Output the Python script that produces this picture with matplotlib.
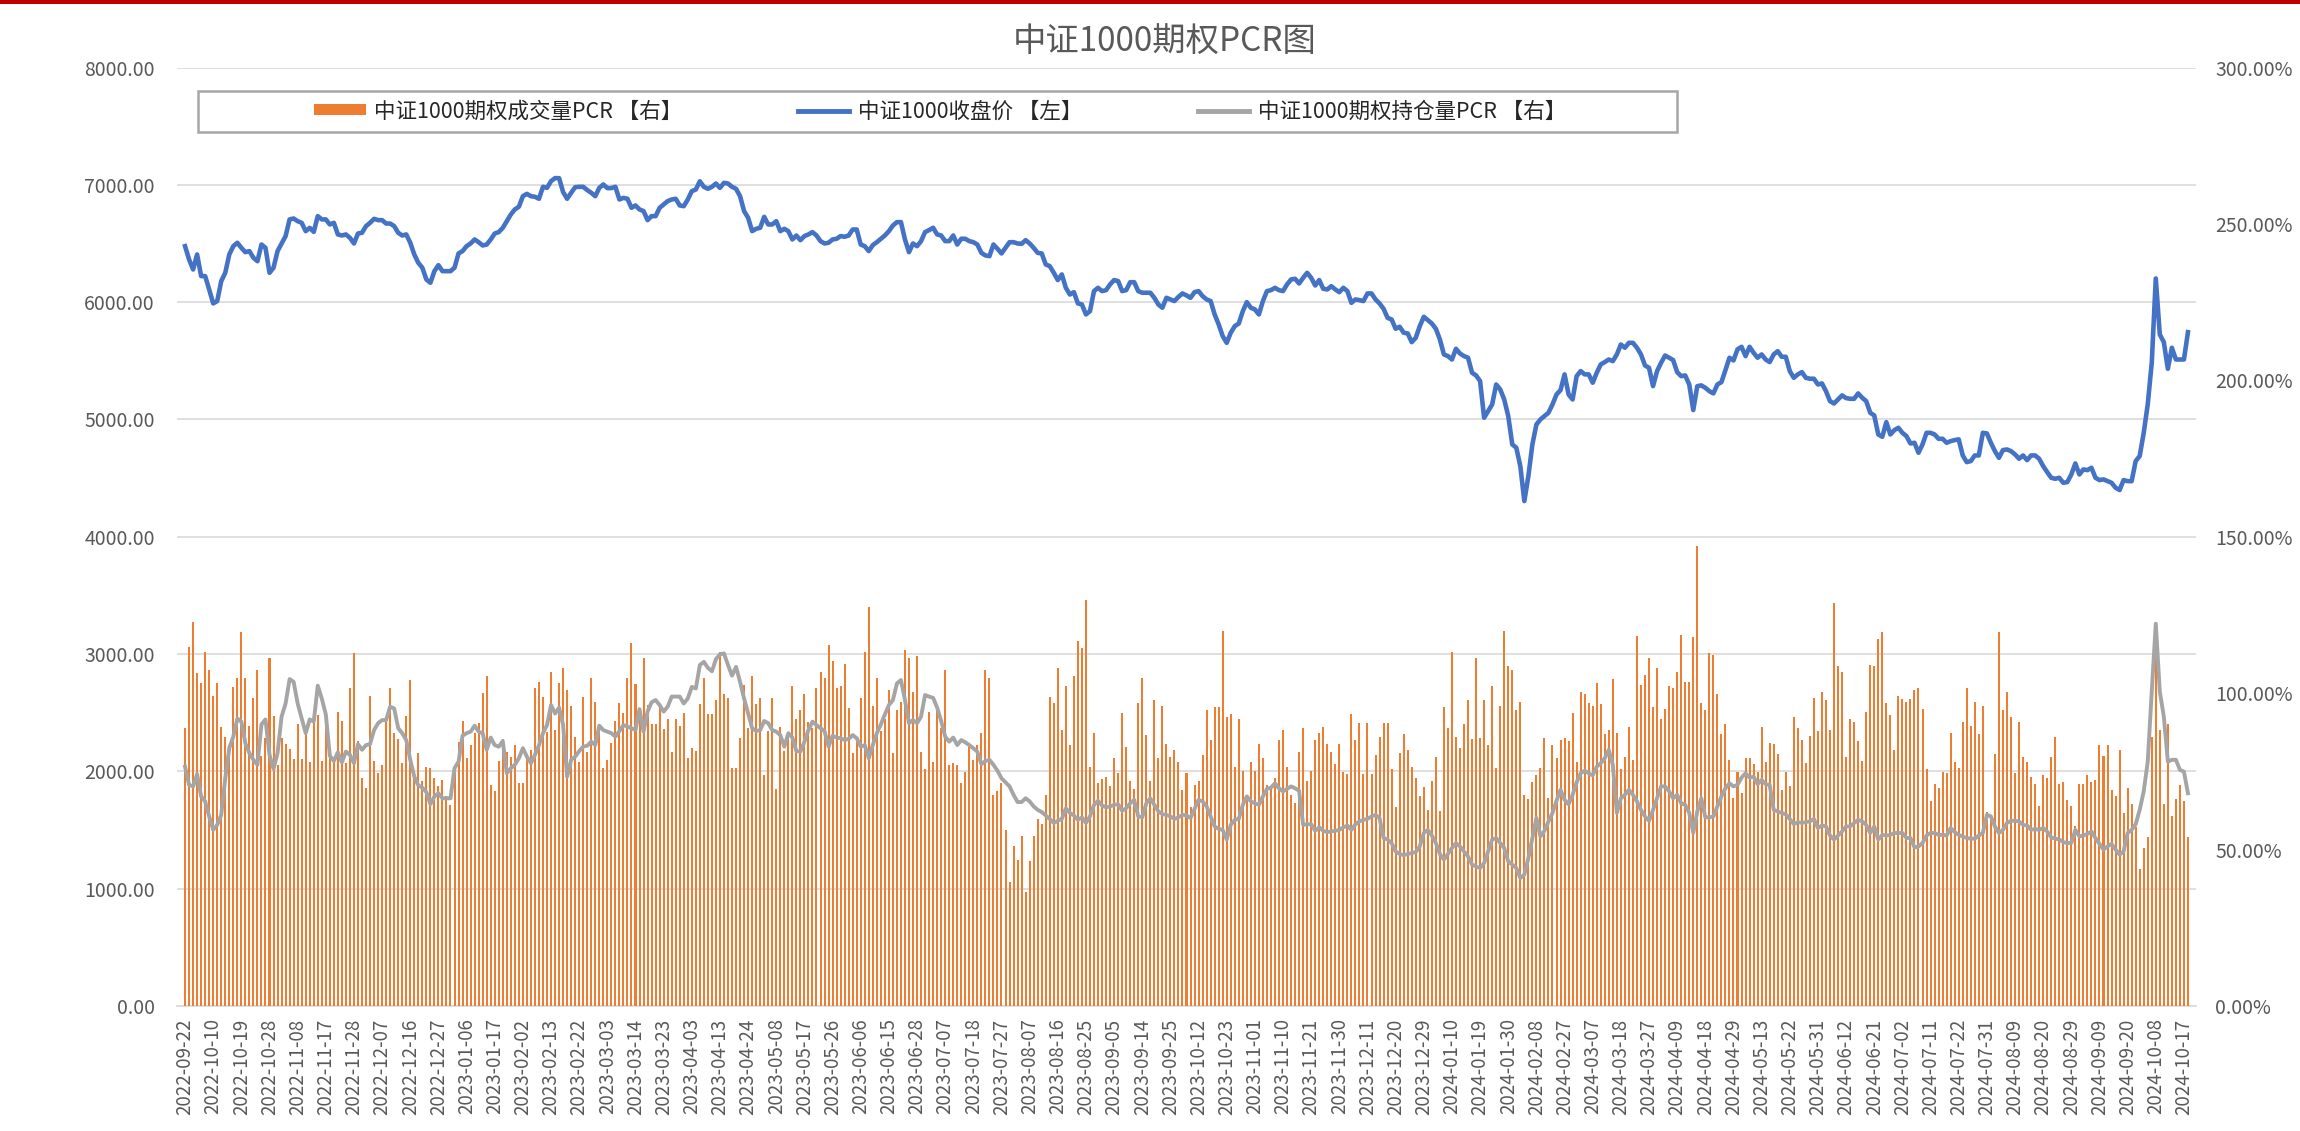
import matplotlib
matplotlib.use('Agg')
import matplotlib.pyplot as plt
import numpy as np
from matplotlib.patches import Patch, Rectangle
from matplotlib.lines import Line2D

plt.rcParams['font.family'] = ['Noto Sans CJK SC', 'DejaVu Sans']

title = '中证1000期权PCR图'
series_names = ['中证1000期权成交量PCR 【右】', '中证1000收盘价 【左】', '中证1000期权持仓量PCR 【右】']

tick_labels = [
    '2022-09-22', '2022-10-10', '2022-10-19', '2022-10-28', '2022-11-08', '2022-11-17',
    '2022-11-28', '2022-12-07', '2022-12-16', '2022-12-27', '2023-01-06', '2023-01-17',
    '2023-02-02', '2023-02-13', '2023-02-22', '2023-03-03', '2023-03-14', '2023-03-23',
    '2023-04-03', '2023-04-13', '2023-04-24', '2023-05-08', '2023-05-17', '2023-05-26',
    '2023-06-06', '2023-06-15', '2023-06-28', '2023-07-07', '2023-07-18', '2023-07-27',
    '2023-08-07', '2023-08-16', '2023-08-25', '2023-09-05', '2023-09-14', '2023-09-25',
    '2023-10-12', '2023-10-23', '2023-11-01', '2023-11-10', '2023-11-21', '2023-11-30',
    '2023-12-11', '2023-12-20', '2023-12-29', '2024-01-10', '2024-01-19', '2024-01-30',
    '2024-02-08', '2024-02-27', '2024-03-07', '2024-03-18', '2024-03-27', '2024-04-09',
    '2024-04-18', '2024-04-29', '2024-05-13', '2024-05-22', '2024-05-31', '2024-06-12',
    '2024-06-21', '2024-07-02', '2024-07-11', '2024-07-22', '2024-07-31', '2024-08-09',
    '2024-08-20', '2024-08-29', '2024-09-09', '2024-09-20', '2024-10-08', '2024-10-17',
]

# 中证1000收盘价 (left axis)
close = [
    6477, 6364, 6278, 6406, 6222, 6222, 6108, 5989, 6009, 6179,
    6250, 6406, 6477, 6506, 6463, 6426, 6435, 6378, 6349, 6491,
    6463, 6250, 6293, 6435, 6500, 6563, 6705, 6713, 6690, 6676,
    6605, 6633, 6599, 6733, 6705, 6705, 6662, 6676, 6577, 6568,
    6577, 6548, 6500, 6585, 6591, 6648, 6676, 6710, 6699, 6699,
    6670, 6670, 6648, 6591, 6568, 6577, 6506, 6406, 6335, 6293,
    6193, 6165, 6264, 6315, 6264, 6264, 6264, 6293, 6415, 6435,
    6477, 6500, 6534, 6511, 6483, 6491, 6534, 6585, 6597, 6633,
    6690, 6747, 6790, 6813, 6903, 6923, 6903, 6898, 6881, 6983,
    6974, 7031, 7057, 7057, 6938, 6881, 6932, 6980, 6983, 6983,
    6955, 6932, 6903, 6974, 7003, 6972, 6972, 6983, 6875, 6889,
    6881, 6804, 6824, 6790, 6776, 6699, 6733, 6733, 6804, 6832,
    6861, 6875, 6881, 6824,
    6818, 6875, 6946, 6960, 7030, 6983, 6966, 6983, 7011, 6974,
    7017, 7011, 6983, 6966, 6903, 6776, 6719, 6605, 6625, 6634,
    6727, 6662, 6662, 6690, 6605, 6625, 6605, 6534, 6568, 6528,
    6563, 6577, 6597, 6568, 6520, 6500, 6506, 6534, 6540, 6563,
    6557, 6568, 6619, 6619, 6491, 6477, 6435, 6486, 6511, 6540,
    6568, 6605, 6653, 6682, 6682, 6534, 6426, 6500, 6477, 6520,
    6597, 6614, 6634, 6577, 6568, 6520, 6520, 6568, 6491, 6540,
    6540, 6520, 6511, 6491, 6420, 6398, 6392, 6491, 6455, 6415,
    6463, 6511, 6511, 6500, 6497, 6528, 6500, 6463, 6420, 6415,
    6321, 6307, 6250, 6188, 6236, 6122, 6065, 6085, 5989, 5980,
    5895, 5923, 6094, 6122, 6094, 6102, 6151, 6188, 6179, 6094,
    6102, 6170, 6170, 6094, 6080, 6080, 6080, 6037, 5980, 5952,
    6037, 6023, 6009, 6045,
    6074, 6057, 6037, 6085, 6094, 6051, 6023, 6009, 5895, 5810,
    5710, 5653, 5739, 5795, 5818, 5923, 6000, 5952, 5938, 5895,
    6009, 6094, 6102, 6122, 6102, 6094, 6151, 6193, 6199, 6159,
    6207, 6250, 6207, 6142, 6188, 6114, 6108, 6136, 6108, 6085,
    6122, 6094, 5994, 6023, 6017, 6009, 6074, 6074, 6023, 5989,
    5943, 5866, 5852, 5773, 5790, 5739, 5733, 5659, 5696, 5795,
    5875, 5847, 5818, 5773, 5682, 5554, 5540, 5511, 5602, 5562,
    5540, 5526, 5398, 5375, 5327, 5014, 5071, 5128, 5298, 5256,
    5170, 5028, 4787, 4759, 4602, 4304, 4517, 4787, 4957, 5000,
    5028, 5057, 5128, 5213, 5250, 5384, 5213, 5170, 5369, 5412,
    5384, 5384, 5313, 5398, 5469, 5489, 5511, 5497, 5554, 5639,
    5611, 5653, 5653, 5611, 5554, 5460, 5440, 5284, 5412, 5483,
    5545, 5526, 5506, 5403,
    5369, 5375, 5298, 5080, 5284, 5290, 5270, 5241, 5222, 5298,
    5318, 5420, 5526, 5503, 5597, 5619, 5540, 5619, 5568, 5526,
    5554, 5511, 5489, 5554, 5582, 5534, 5534, 5412, 5355, 5384,
    5403, 5355, 5347, 5347, 5298, 5307, 5241, 5156, 5136, 5170,
    5205, 5182, 5176, 5176, 5222, 5185, 5156, 5057, 5034, 4872,
    4852, 4977, 4872, 4909, 4929, 4886, 4858, 4795, 4801, 4716,
    4787, 4886, 4886, 4872, 4835, 4835, 4801, 4815, 4824, 4830,
    4693, 4636, 4645, 4693, 4693, 4886, 4881, 4801, 4730, 4673,
    4739, 4744, 4730, 4702, 4665, 4693, 4653, 4693,
    4693, 4665, 4602, 4551, 4503, 4494, 4503, 4460, 4466, 4531,
    4625, 4531, 4574, 4568, 4588, 4503, 4483, 4489, 4474, 4460,
    4418, 4398, 4483, 4474, 4474, 4645, 4688, 4886, 5128, 5483,
    6202, 5724, 5659, 5432, 5611, 5511, 5511, 5511, 5744,
]

# 中证1000期权成交量PCR, % (right axis)
volume_pcr = [
    88.8, 114.8, 122.8, 106.3, 103.1, 113.2, 107.4, 99.2, 103.1, 89.3,
    86.1, 83.4, 102.0, 105.0, 119.6, 105.0, 89.6, 98.3, 107.4, 80.0,
    85.6, 111.3, 92.8, 77.1, 85.6, 83.9, 82.1, 78.9, 90.1, 78.9,
    86.6, 78.0, 90.9, 93.0, 78.3, 91.9, 79.2, 79.2, 94.1, 91.1,
    77.6, 101.8, 112.7, 84.7, 73.0, 69.8, 99.2, 78.3, 74.4, 77.1,
    90.7, 101.5, 87.4, 85.3, 77.6, 92.8, 104.2, 72.8, 80.8, 71.8,
    76.5, 76.2, 73.0,
    70.2, 72.3, 67.0, 64.3, 76.5, 84.4, 91.1, 79.2, 83.4, 87.2,
    90.6, 99.9, 105.5, 70.7, 68.6, 78.3, 85.4, 81.1, 79.7, 83.4,
    71.2, 71.2, 79.2, 81.9, 101.7, 103.6, 98.9, 87.7, 106.8, 88.2,
    103.1, 108.1, 101.0, 96.0, 86.1, 78.1, 98.9, 81.1, 105.0, 97.3,
    88.8, 76.2, 78.7, 84.0, 91.1, 96.7, 93.8, 104.7, 115.9, 102.8,
    95.1, 111.1, 96.2, 90.0, 90.0, 95.1, 88.4, 91.9, 81.1, 91.9,
    89.6, 93.8,
    79.2, 82.4, 81.5, 96.4, 104.7, 93.2, 93.2, 97.8, 113.2, 99.6,
    98.3, 76.2, 76.2, 85.6, 102.6, 88.8, 105.6, 96.4, 98.3, 73.9,
    87.9, 98.3, 69.4, 89.3, 81.5, 87.7, 102.4, 91.9, 94.6, 99.6,
    90.7, 88.8, 101.5, 106.8, 105.0, 115.3, 110.4, 101.5, 102.4, 109.2,
    95.1, 80.8, 85.6, 98.3, 113.2, 127.6, 96.0, 104.7, 87.9, 91.9,
    101.0, 80.8, 94.6, 97.3, 113.7, 111.3, 100.5, 111.9, 81.1, 75.8,
    94.1, 78.1,
    95.1, 88.8, 107.4, 77.1, 77.6, 77.1, 71.2, 74.9, 82.9, 78.7,
    83.4, 87.2, 107.4, 105.0, 67.5, 68.6, 71.2, 56.3, 39.7, 51.3,
    46.8, 54.5, 36.5, 46.5, 54.5, 59.8, 58.1, 67.3, 98.9, 96.9,
    107.9, 88.2, 102.4, 83.4, 105.6, 116.7, 114.5, 129.8, 76.5, 87.2,
    71.2, 72.5, 73.3, 70.2, 79.2, 74.4, 93.8, 82.9, 71.8, 69.4,
    96.9, 105.0, 86.6, 71.8, 97.8, 79.2, 96.0, 83.9, 79.7, 81.9,
    78.1, 69.1,
    74.4, 63.5, 70.7, 71.8, 80.3, 94.6, 85.0, 95.7, 95.7, 119.9,
    92.5, 93.2, 76.5, 91.9, 75.2, 66.4, 77.9, 75.2, 83.9, 79.2,
    70.7, 69.6, 72.8, 85.0, 88.2, 76.5, 67.5, 64.8, 81.1, 88.8,
    71.8, 75.2, 85.0, 87.2, 89.3, 83.9, 81.1, 77.5, 83.9, 74.9,
    74.3, 93.2, 85.0, 90.6, 74.3, 90.6, 74.3, 80.3, 86.1, 90.6,
    90.6, 75.6, 63.5, 80.8, 87.0, 81.9, 76.5, 72.8, 67.0, 70.0,
    62.6, 71.8,
    79.7, 62.2, 95.7, 88.8, 113.2, 86.1, 82.4, 90.1, 97.8, 85.3,
    111.3, 85.6, 97.8, 83.4, 102.4, 76.2, 96.0, 119.9, 108.6, 107.4,
    94.6, 97.3, 67.5, 66.2, 71.5, 73.9, 76.2, 85.6, 66.6, 83.4,
    79.4, 85.0, 85.6, 84.7, 93.8, 77.9, 100.5, 99.6, 96.7, 96.0,
    103.1, 96.4, 87.1, 88.2, 104.5, 87.4, 75.7, 79.7, 89.3, 78.7,
    118.2, 102.6, 105.8, 111.3, 95.5, 108.1, 91.7, 94.9, 102.4, 101.5,
    106.8, 118.5,
    103.6, 103.6, 118.0, 147.0, 96.7, 94.6, 112.7, 112.1, 99.6, 87.0,
    90.1, 78.7, 66.6, 74.9, 68.0, 79.2, 79.2, 77.4, 74.9, 89.2,
    77.9, 84.1, 83.7, 80.6, 68.9, 74.9, 70.2, 92.4, 88.8, 85.0,
    77.6, 86.4, 98.6, 87.9, 100.5, 97.7, 88.2, 128.8, 108.6, 106.8,
    79.6, 91.8, 90.9, 84.7, 78.4, 94.1, 109.0, 108.6, 117.3, 119.4,
    96.8, 92.9, 81.9, 99.2, 98.1, 97.3, 98.1, 100.9, 101.8, 94.9,
    75.6, 65.6,
    71.0, 69.8, 74.7, 74.4, 87.4, 77.9, 76.0, 90.9, 101.8, 89.6,
    97.3, 87.0, 96.0, 62.0, 61.1, 80.7, 119.4, 94.6, 100.5, 92.4,
    74.4, 90.9, 79.7, 77.9, 73.3, 71.0, 64.0, 73.9, 73.0, 79.6,
    86.0, 71.0, 71.5, 65.7, 63.8, 57.4, 71.0, 71.0, 73.8, 71.5,
    72.4, 83.4, 80.0, 83.3, 68.9, 67.0, 81.9, 61.6, 69.8, 64.7,
    57.1, 43.9, 50.4, 54.0, 86.0, 111.1, 88.2, 64.7, 90.0, 60.8,
    66.2, 70.7, 65.6, 54.0,
]

# 中证1000期权持仓量PCR, % (right axis)
oi_pcr = [
    76.5, 70.7, 70.2, 74.1, 67.0, 65.4, 60.6, 56.3, 57.9, 61.1,
    72.8, 82.4, 86.1, 91.9, 90.9, 84.0, 80.8, 78.7, 77.1, 90.0,
    91.6, 80.3, 75.8, 80.8, 92.5, 96.7, 104.5, 103.6, 96.7, 91.9,
    87.2, 91.6, 90.9, 102.4, 98.3, 93.2, 80.0, 78.3, 81.1, 77.9,
    81.3, 80.3, 77.6, 83.7, 81.9, 83.4, 83.7, 88.2, 90.4, 91.4,
    91.4, 95.7, 95.1, 88.8, 87.2, 85.0, 78.7, 73.3, 70.5, 69.8,
    68.4, 64.5, 67.0,
    68.0, 66.4, 66.4, 66.4, 76.0, 78.1, 86.4, 87.2, 87.7, 89.6,
    87.7, 87.2, 81.9, 85.8, 83.4, 82.9, 84.7, 74.4, 76.0, 77.1,
    79.2, 82.4, 79.7, 77.6, 80.3, 83.4, 87.2, 89.8, 96.2, 93.5,
    95.4, 89.8, 73.3, 78.7, 79.7, 81.5, 82.9, 83.2, 84.5, 83.4,
    89.6, 88.2, 87.7, 87.2, 86.1, 87.9, 89.8, 89.3, 88.8, 88.2,
    94.9, 87.7, 94.1, 97.1, 97.8, 96.2, 94.1, 95.7, 98.9, 98.9,
    98.9, 96.7,
    98.3, 102.0, 101.5, 109.0, 110.0, 108.1, 107.0, 110.9, 112.4, 112.7,
    109.0, 105.6, 108.4, 103.6, 98.3, 93.5, 88.8, 87.9, 88.2, 91.1,
    90.4, 88.2, 87.7, 86.6, 82.9, 87.2, 85.8, 81.5, 81.3, 84.5,
    88.2, 90.9, 89.8, 88.8, 87.9, 82.9, 86.4, 85.8, 85.6, 85.0,
    85.4, 86.6, 85.6, 82.9, 83.4, 79.2, 83.4, 87.2, 90.0, 93.2,
    96.2, 97.8, 103.1, 104.2, 97.8, 90.4, 91.4, 90.4, 92.5, 99.4,
    98.9, 98.5,
    95.4, 91.1, 86.1, 84.5, 85.8, 83.4, 85.0, 84.3, 83.4, 82.4,
    81.3, 77.3, 78.3, 78.7, 77.1, 75.2, 72.8, 71.5, 70.2, 67.5,
    65.2, 65.2, 66.4, 65.4, 63.8, 62.7, 62.0, 60.9, 59.8, 58.5,
    59.2, 59.8, 63.2, 61.7, 60.9, 59.5, 60.3, 58.5, 60.6, 64.3,
    65.6, 64.1, 63.5, 63.8, 64.3, 64.5, 62.4, 63.2, 64.8, 65.9,
    60.6, 60.3, 64.8, 66.4, 64.3, 62.2, 61.3, 61.1, 60.6, 59.8,
    60.3, 61.1,
    60.9, 60.1, 63.0, 65.9, 65.4, 63.8, 60.6, 57.4, 56.6, 56.3,
    53.2, 57.9, 59.5, 59.8, 64.3, 67.0, 65.4, 64.8, 64.3, 67.0,
    69.4, 69.8, 71.2, 69.6, 68.6, 69.4, 70.2, 69.6, 68.8, 57.9,
    58.1, 58.1, 56.0, 57.1, 56.0, 55.6, 55.8, 56.0, 56.3, 57.1,
    57.7, 56.3, 58.1, 59.0, 59.5, 59.8, 60.6, 61.1, 60.1, 53.7,
    53.2, 52.1, 49.4, 48.6, 48.2, 48.6, 48.9, 49.2, 51.0, 55.3,
    56.3, 54.5,
    52.1, 48.6, 46.8, 48.6, 50.5, 52.1, 51.0, 49.4, 47.8, 45.2,
    44.6, 44.1, 45.7, 49.4, 53.2, 53.7, 52.1, 50.5, 46.2, 45.2,
    44.1, 40.9, 42.0, 47.3, 53.7, 60.1, 54.2, 56.0, 59.0, 61.7,
    65.6, 69.1, 65.9, 64.5, 67.5, 71.5, 74.4, 75.2, 74.4, 73.7,
    76.5, 77.6, 79.2, 81.9, 77.1, 61.7, 66.4, 67.5, 69.1, 67.5,
    65.4, 62.7, 60.6, 59.2, 62.7, 66.4, 70.2, 70.2, 68.6, 66.4,
    67.5, 64.8,
    64.3, 61.7, 55.3, 62.2, 66.4, 60.3, 60.3, 60.6, 63.8, 67.0,
    69.6, 71.2, 70.2, 70.7, 73.0, 74.4, 73.0, 73.3, 70.9, 72.3,
    70.9, 70.7, 62.7, 62.2, 61.7, 61.3, 59.8, 58.1, 58.8, 58.5,
    58.8, 59.0, 59.8, 56.9, 57.7, 57.4, 54.5, 53.2, 54.5, 55.8,
    57.4, 57.4, 58.5, 59.5, 59.0, 57.9, 55.3, 57.4, 53.2, 54.7,
    54.5, 54.7, 55.3, 55.3, 55.3, 53.7, 53.7, 50.7, 51.0, 52.1,
    54.5, 55.3,
    55.3, 54.7, 54.7, 54.5, 56.9, 55.6, 54.7, 54.2, 53.7, 53.5,
    53.5, 54.5, 55.3, 61.1, 60.6, 57.4, 55.3, 56.3, 58.5, 59.2,
    59.2, 59.0, 57.9, 57.7, 56.3, 56.6, 56.3, 56.9, 55.8, 53.9,
    53.5, 53.2, 52.4, 52.1, 52.1, 56.3, 54.2, 54.5, 55.0, 55.8,
    53.7, 51.8, 50.0, 51.0, 51.8, 50.0, 48.4, 49.4, 55.3, 56.3,
    58.1, 62.7, 68.6, 78.1, 100.5, 122.2, 100.5, 92.5, 78.1, 78.7,
    78.7, 75.5, 74.9, 68.0,
]

C_ORANGE = '#ED7D31'
C_BLUE = '#4472C4'
C_GRAY = '#A5A5A5'
C_TEXT = '#595959'
C_GRID = '#D9D9D9'

W, H = 2300, 1131
fig = plt.figure(figsize=(W / 100, H / 100), dpi=100)
fig.patch.set_facecolor('white')

left, right, bottom, top = 177, 2196, 1006, 67.5
ax1 = fig.add_axes([left / W, (H - bottom) / H, (right - left) / W, (bottom - top) / H])
ax2 = ax1.twinx()

x_close = np.arange(len(close))
x_vol = np.arange(len(volume_pcr))
x_oi = np.arange(len(oi_pcr))
n = max(len(close), len(volume_pcr), len(oi_pcr))

ax1.plot(x_close, close, color=C_BLUE, lw=3.3, solid_joinstyle='round', zorder=3)
ax2.bar(x_vol, volume_pcr, width=0.5, color=C_ORANGE, linewidth=0, antialiased=False, zorder=2)
ax2.plot(x_oi, oi_pcr, color=C_GRAY, lw=2.8, solid_joinstyle='round', zorder=3)

ax1.set_ylim(0, 8000)
ax1.set_yticks(np.arange(0, 8001, 1000))
ax1.set_yticklabels([f'{v:.2f}' for v in np.arange(0, 8001, 1000)])
ax2.set_ylim(0, 300)
ax2.set_yticks(np.arange(0, 301, 50))
ax2.set_yticklabels([f'{v:.2f}%' for v in np.arange(0, 301, 50)])

ax1.set_xlim(-2, n + 1)
ticks = np.arange(0, len(tick_labels) * 7, 7)
ax1.set_xticks(ticks)
ax1.set_xticklabels(tick_labels, rotation=90, fontsize=13.5, color=C_TEXT)

ax1.grid(axis='y', color=C_GRID, lw=1.2)
ax1.set_axisbelow(True)
for ax in (ax1, ax2):
    for s in ('left', 'right', 'top'):
        ax.spines[s].set_visible(False)
    ax.tick_params(length=0)
ax1.spines['bottom'].set_color(C_GRID)
ax1.spines['bottom'].set_linewidth(1.2)
ax2.spines['bottom'].set_visible(False)
ax1.tick_params(axis='y', labelsize=14, labelcolor=C_TEXT, pad=16)
ax2.tick_params(axis='y', labelsize=14, labelcolor=C_TEXT, pad=14)
ax1.tick_params(axis='x', pad=9)

fig.text(1165 / W, 1 - 42 / H, title, ha='center', va='center', fontsize=24, color=C_TEXT)

# legend box
fig.add_artist(Rectangle((198 / W, 1 - 132 / H), (1677 - 198) / W, 41 / H,
                         transform=fig.transFigure, facecolor='white',
                         edgecolor='#A6A6A6', lw=1.8, zorder=5))
handles = [
    Patch(facecolor=C_ORANGE, edgecolor='none'),
    Line2D([0], [0], color=C_BLUE, lw=3.5),
    Line2D([0], [0], color=C_GRAY, lw=3.5),
]
leg = fig.legend(handles, series_names, loc='center', bbox_to_anchor=(940 / W, 1 - 111.5 / H),
                 ncol=3, frameon=False, fontsize=15.5, columnspacing=5.35,
                 handlelength=2.4, handleheight=0.42, handletextpad=0.4)
leg.set_zorder(6)
for t in leg.get_texts():
    t.set_color('#262626')

# top red band
fig.add_artist(Rectangle((0, 1 - 4 / H), 1, 4 / H, transform=fig.transFigure,
                         facecolor='#C00000', edgecolor='none'))

fig.savefig('out.png', dpi=100)
